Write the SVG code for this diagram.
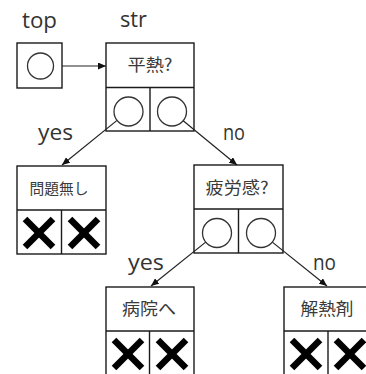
<svg xmlns="http://www.w3.org/2000/svg" width="366" height="374" viewBox="0 0 366 374">
<defs>
<marker id="ah" markerWidth="8" markerHeight="7" refX="8" refY="3.5" orient="auto" markerUnits="userSpaceOnUse">
<path d="M0,0 L8,3.5 L0,7 z" fill="#111"/>
</marker>
<g id="xcell">
<line x1="-14" y1="-14" x2="14" y2="14"/>
<line x1="-14" y1="14" x2="14" y2="-14"/>
</g>
</defs>
<style>
.box{fill:#fff;stroke:#1a1a1a;stroke-width:1.4}
.div{stroke:#1a1a1a;stroke-width:1.4;fill:none}
.ring{fill:none;stroke:#333;stroke-width:1.3}
.conn{stroke:#222;stroke-width:1.2;fill:none;marker-end:url(#ah)}
.lbl{font-family:"Open Sans","DejaVu Sans",sans-serif;font-size:21px;fill:#333}
.jp{font-family:"Noto Sans CJK JP","Noto Sans",sans-serif;font-size:17px;fill:#3a3a3a;text-anchor:middle}
.x{stroke:#000;stroke-width:6.5;stroke-linecap:butt}
</style>
<rect width="366" height="374" fill="#fff"/>

<g id="labels">
<text class="lbl" x="22" y="28" textLength="35" lengthAdjust="spacingAndGlyphs">top</text>
<text class="lbl" x="120" y="27" textLength="27" lengthAdjust="spacingAndGlyphs">str</text>
<text class="lbl" x="38" y="140" textLength="35" lengthAdjust="spacingAndGlyphs">yes</text>
<text class="lbl" x="223" y="140" textLength="22" lengthAdjust="spacingAndGlyphs">no</text>
<text class="lbl" x="128" y="270" textLength="36" lengthAdjust="spacingAndGlyphs">yes</text>
<text class="lbl" x="313" y="270" textLength="23" lengthAdjust="spacingAndGlyphs">no</text>
</g>

<g id="top">
<rect class="box" x="17" y="43" width="45" height="45"/>
<circle class="ring" cx="40.5" cy="66" r="13"/>
</g>

<g id="n_heinetsu">
<rect class="box" x="106" y="43" width="88" height="88"/>
<line class="div" x1="106" y1="87.5" x2="194" y2="87.5"/>
<line class="div" x1="150" y1="87.5" x2="150" y2="131"/>
<circle class="ring" cx="128.5" cy="111.5" r="14.5"/>
<circle class="ring" cx="172" cy="111.5" r="14.5"/>
<text class="jp" x="150" y="71" textLength="45" lengthAdjust="spacingAndGlyphs">平熱?</text>
</g>

<g id="n_mondainashi">
<rect class="box" x="17" y="166" width="89" height="88"/>
<line class="div" x1="17" y1="210" x2="106" y2="210"/>
<line class="div" x1="61.5" y1="210" x2="61.5" y2="254"/>
<text class="jp" x="59" y="194" style="font-size:15px" textLength="59" lengthAdjust="spacingAndGlyphs">問題無し</text>
<g class="x"><use href="#xcell" x="39" y="233"/><use href="#xcell" x="84" y="233"/></g>
</g>

<g id="n_hirokan">
<rect class="box" x="194" y="165" width="89" height="88"/>
<line class="div" x1="194" y1="209" x2="283" y2="209"/>
<line class="div" x1="238.5" y1="209" x2="238.5" y2="253"/>
<circle class="ring" cx="217" cy="233" r="14.5"/>
<circle class="ring" cx="261" cy="233" r="14.5"/>
<text class="jp" x="237" y="194" textLength="63" lengthAdjust="spacingAndGlyphs">疲労感?</text>
</g>

<g id="n_byoin">
<rect class="box" x="106" y="287" width="88" height="100"/>
<line class="div" x1="106" y1="331" x2="194" y2="331"/>
<line class="div" x1="149.5" y1="331" x2="149.5" y2="374"/>
<text class="jp" x="149" y="315" textLength="54" lengthAdjust="spacingAndGlyphs">病院へ</text>
<g class="x"><use href="#xcell" x="128" y="354"/><use href="#xcell" x="172" y="354"/></g>
</g>

<g id="n_genetsuzai">
<rect class="box" x="284" y="287" width="88" height="100"/>
<line class="div" x1="284" y1="331" x2="372" y2="331"/>
<line class="div" x1="328" y1="331" x2="328" y2="374"/>
<text class="jp" x="327" y="315" textLength="53" lengthAdjust="spacingAndGlyphs">解熱剤</text>
<g class="x"><use href="#xcell" x="306" y="354"/><use href="#xcell" x="350" y="354"/></g>
</g>

<g id="connectors">
<line class="conn" x1="62" y1="66" x2="106" y2="66"/>
<line class="conn" x1="116.7" y1="120.6" x2="62" y2="165"/>
<line class="conn" x1="183.2" y1="120.7" x2="237" y2="165"/>
<line class="conn" x1="205.7" y1="242.1" x2="151" y2="286"/>
<line class="conn" x1="272.3" y1="242.1" x2="327" y2="286"/>
</g>
</svg>
